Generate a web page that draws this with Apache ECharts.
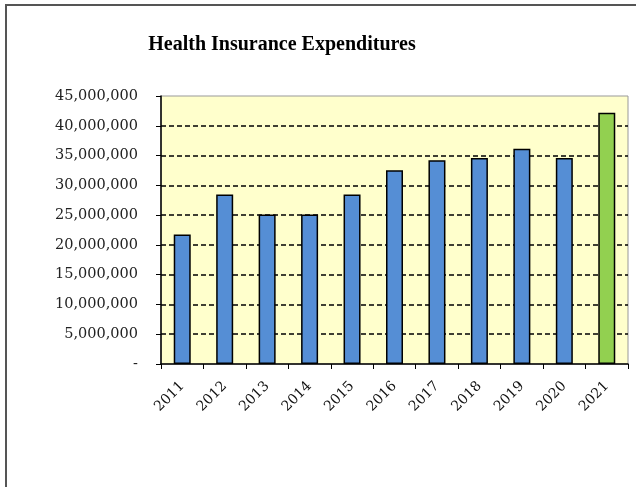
<!DOCTYPE html>
<html>
<head>
<meta charset="utf-8">
<script src="https://cdn.jsdelivr.net/npm/echarts@6/dist/echarts.min.js"></script>
<style>
  html, body { margin: 0; padding: 0; background: #fff; }
  #main { width: 636px; height: 487px; }
</style>
</head>
<body>
<div id="main"></div>
<script>
// data
var years = ["2011", "2012", "2013", "2014", "2015", "2016", "2017", "2018", "2019", "2020", "2021"];
var expenditures = [21750000, 28450000, 25100000, 25100000, 28450000, 32550000, 34200000, 34600000, 36150000, 34600000, 42200000];
var projectedYear = "2021";

var myChart = echarts.init(document.getElementById("main"));

function fmt(v) {
  if (v === 0) return "-";
  return String(v).replace(/\B(?=(\d{3})+(?!\d))/g, ",");
}

var option = {
  backgroundColor: "#fff",
  animation: false,
  graphic: [
    {
      type: "rect",
      shape: { x: 6, y: 5, width: 700, height: 600 },
      style: { fill: "none", stroke: "#555", lineWidth: 2 },
      z: 100
    }
  ],
  title: {
    text: "Health Insurance Expenditures",
    left: 277,
    textAlign: "center",
    top: 30,
    textStyle: {
      fontFamily: "Liberation Serif",
      fontWeight: "bold",
      fontSize: 20,
      color: "#000"
    }
  },
  grid: {
    left: 161,
    top: 96,
    right: 8,
    bottom: 123,
    show: true,
    backgroundColor: "#FFFFCC",
    borderColor: "#999",
    borderWidth: 1
  },
  xAxis: {
    type: "category",
    data: years,
    axisLine: { lineStyle: { color: "#000", width: 1.5 } },
    axisTick: { show: true, length: 5, lineStyle: { color: "#000" } },
    axisLabel: {
      rotate: 45,
      margin: 20,
      fontFamily: "DejaVu Serif",
      fontSize: 14,
      color: "#111"
    }
  },
  yAxis: {
    type: "value",
    min: 0,
    max: 45000000,
    interval: 5000000,
    axisLine: { show: true, lineStyle: { color: "#000", width: 1.5 } },
    axisTick: { show: true, length: 5, lineStyle: { color: "#000" } },
    splitLine: {
      showMinLine: false,
      showMaxLine: false,
      lineStyle: { color: "#000", type: [5, 3], width: 1.5 }
    },
    axisLabel: {
      formatter: fmt,
      margin: 23,
      fontFamily: "DejaVu Serif",
      fontSize: 14.5,
      color: "#222"
    }
  },
  series: [
    {
      type: "bar",
      data: expenditures,
      barWidth: 17,
      itemStyle: {
        color: function (p) {
          return p.name === projectedYear ? "#92D050" : "#558ED5";
        },
        borderColor: "#000",
        borderWidth: 1.5
      }
    }
  ]
};

myChart.setOption(option);
</script>
</body>
</html>
